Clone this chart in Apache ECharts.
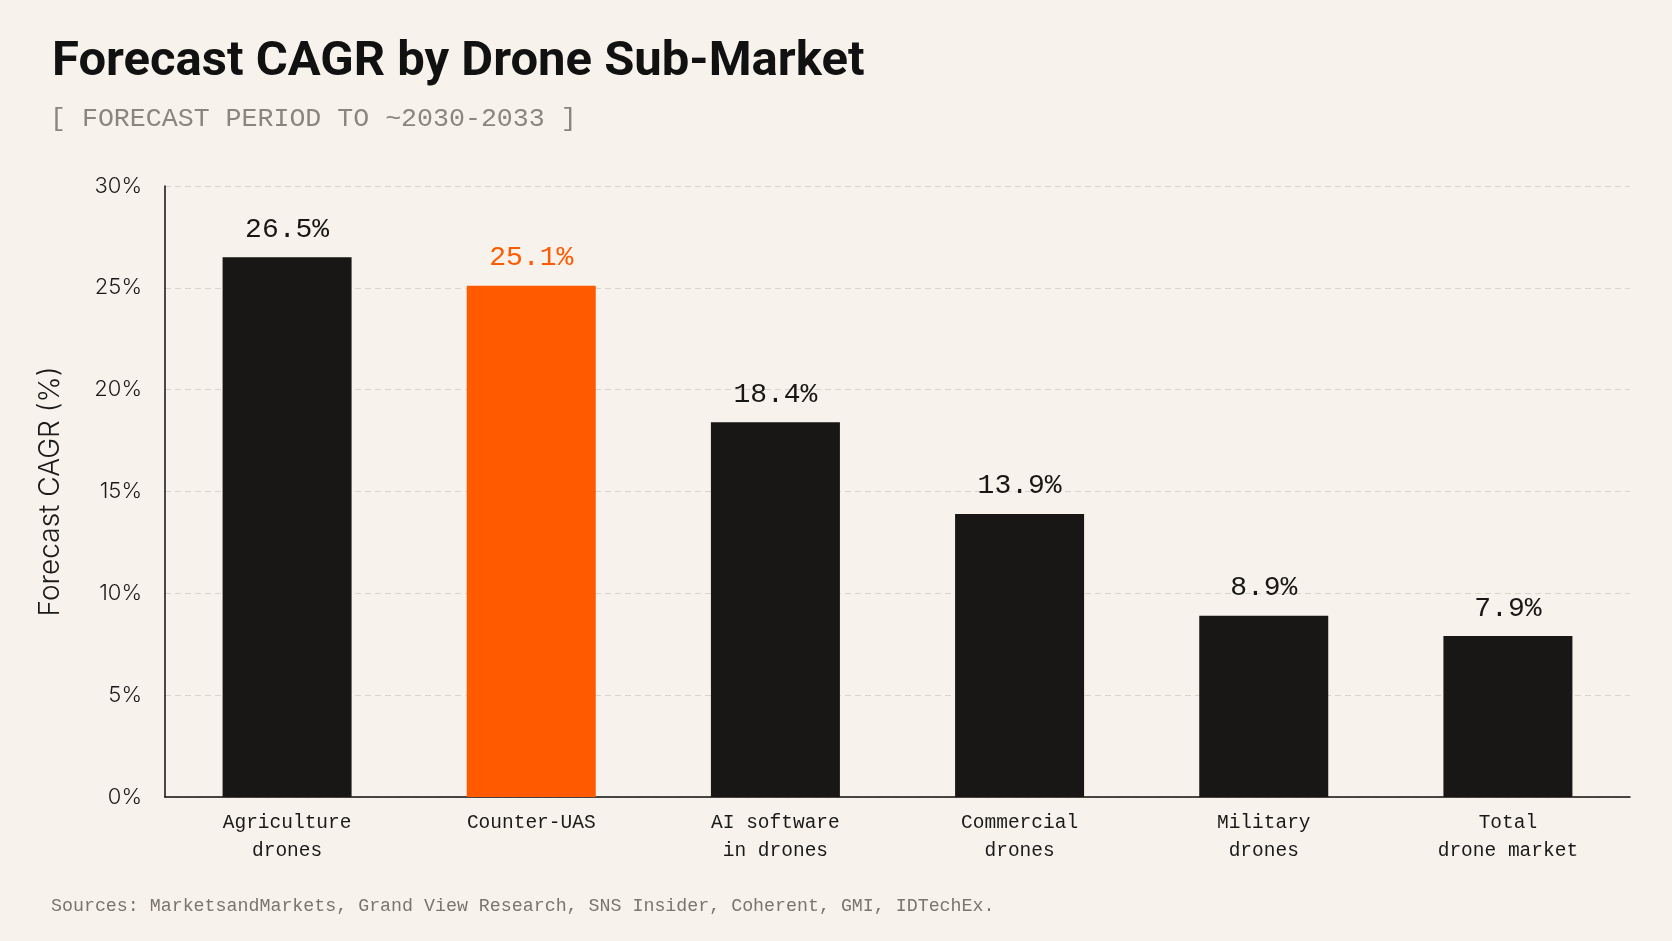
<!DOCTYPE html>
<html>
<head>
<meta charset="utf-8">
<script src="https://cdn.jsdelivr.net/npm/echarts@6/dist/echarts.min.js"></script>
<style>
  html, body { margin: 0; padding: 0; background: #f7f3ec; }
  #main { width: 1672px; height: 941px; }
</style>
</head>
<body>
<div id="main"></div>
<script>
// data
var categories = ['Agriculture\ndrones', 'Counter-UAS', 'AI software\nin drones', 'Commercial\ndrones', 'Military\ndrones', 'Total\ndrone market']
var cagrValues = [26.5, 25.1, 18.4, 13.9, 8.9, 7.9]
var highlighted = [false, true, false, false, false, false] // Counter-UAS in orange
var yTicks = [0, 5, 10, 15, 20, 25, 30]

var INK = '#181716'
var ORANGE = '#ff5a00'
var MONO = '"Liberation Mono", "DejaVu Sans Mono", monospace'

var barData = cagrValues.map(function(v, i) {
	var c = highlighted[i] ? ORANGE : INK
	return {
		value: v,
		itemStyle: { color: c },
		label: { color: c }
	}
})

var myChart = echarts.init(document.getElementById('main'))
myChart.setOption({
	backgroundColor: '#f7f3ec',
	animation: false,
	title: [{
		text: 'Forecast CAGR by Drone Sub-Market',
		left: 47,
		top: 33,
		textStyle: { fontFamily: 'Roboto', fontWeight: 'bold', fontSize: 49, color: '#111' }
	}, {
		text: '[ FORECAST PERIOD TO ~2030-2033 ]',
		left: 45,
		top: 100,
		textStyle: { fontFamily: MONO, fontWeight: 'normal', fontSize: 26.6, color: '#8a857d' }
	}, {
		text: 'Sources: MarketsandMarkets, Grand View Research, SNS Insider, Coherent, GMI, IDTechEx.',
		left: 46,
		top: 892,
		textStyle: { fontFamily: MONO, fontWeight: 'normal', fontSize: 18.3, color: '#7a756e' }
	}],
	grid: { left: 165, right: 42, top: 186, bottom: 144 },
	xAxis: {
		type: 'category',
		data: categories,
		axisLine: { lineStyle: { color: '#111', width: 1.5 } },
		axisTick: { show: false },
		axisLabel: {
			margin: 12,
			fontFamily: MONO,
			fontSize: 19.5,
			lineHeight: 28,
			color: '#1a1a1a'
		}
	},
	yAxis: {
		type: 'value',
		min: yTicks[0],
		max: yTicks[yTicks.length - 1],
		interval: 5,
		name: 'Forecast CAGR (%)',
		nameLocation: 'middle',
		nameGap: 100,
		nameTextStyle: { fontFamily: 'Inter', fontWeight: 300, fontSize: 28, color: '#1a1a1a' },
		axisLine: { show: true, lineStyle: { color: '#111', width: 1.5 } },
		axisTick: { show: false },
		axisLabel: {
			margin: 23,
			formatter: '{value}%',
			fontFamily: 'Inter',
			fontWeight: 300,
			fontSize: 22,
			color: '#1a1a1a'
		},
		splitLine: { lineStyle: { color: '#d9d4cb', type: [6, 4], width: 1 } }
	},
	series: [{
		type: 'bar',
		data: barData,
		barWidth: 129,
		label: {
			show: true,
			position: 'top',
			distance: 14,
			formatter: '{c}%',
			fontFamily: MONO,
			fontSize: 28
		}
	}]
})
</script>
</body>
</html>
